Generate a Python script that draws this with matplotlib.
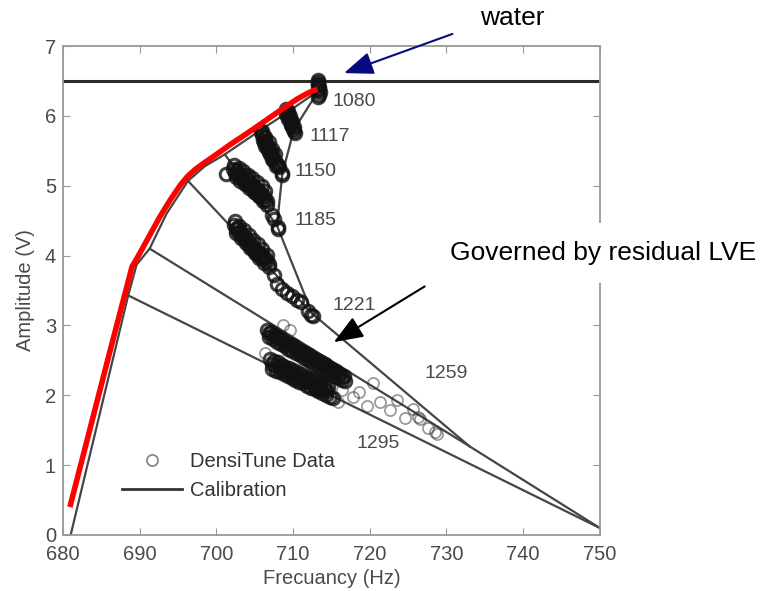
import matplotlib.pyplot as plt
from matplotlib.lines import Line2D

plt.rcParams['font.family'] = ['Liberation Sans', 'DejaVu Sans']

# ── Calibration geometry ─────────────────────────────────────────────────────
water_level = 6.5

env_x = [681.0, 688.5, 689.6, 691.3, 693.5, 696.3, 698.5, 701.1, 705.8, 708.3, 713.3]
env_y = [0.00, 3.43, 3.87, 4.10, 4.60, 5.07, 5.28, 5.45, 5.80, 5.98, 6.36]

densities = ['1080', '1117', '1150', '1185', '1221', '1259', '1295']
traj_x = [713.3, 710.1, 708.6, 707.9, 712.5, 733.0, 750.0]
traj_y = [6.36, 5.80, 5.17, 4.43, 3.17, 1.27, 0.10]
ray_x = [713.3, 708.3, 705.8, 701.1, 696.3, 691.3, 688.5]
ray_y = [6.36, 5.98, 5.80, 5.45, 5.07, 4.10, 3.43]

label_x = [715.2, 712.2, 710.2, 710.2, 715.2, 727.2, 718.3]
label_y = [6.20, 5.70, 5.20, 4.50, 3.29, 2.31, 1.31]

# red envelope drawn over the calibration
red_x = [680.9, 686.1, 689.0, 690.0, 692.6, 694.0, 695.3, 696.2, 697.2, 698.3, 699.5,
         701.8, 704.0, 706.1, 708.2, 710.5, 711.8, 712.6, 713.2]
red_y = [0.40, 2.62, 3.84, 4.03, 4.55, 4.80, 5.01, 5.13, 5.23, 5.32, 5.41,
         5.59, 5.75, 5.91, 6.07, 6.24, 6.32, 6.36, 6.38]

# ── DensiTune data (circles) ─────────────────────────────────────────────────
c1080_x = [713.2, 713.3, 713.2, 713.4, 713.3, 713.5, 713.4, 713.3, 713.2, 713.4]
c1080_y = [6.52, 6.48, 6.44, 6.41, 6.37, 6.34, 6.30, 6.27, 6.46, 6.39]

c1117_x = [709.1, 709.2, 709.4, 709.3, 709.5, 709.6, 709.8, 709.7, 709.9, 710.0, 710.1, 710.2,
           709.3, 709.6, 709.9, 710.1, 709.1, 709.4, 709.7]
c1117_y = [6.10, 6.06, 6.03, 6.00, 5.97, 5.94, 5.91, 5.88, 5.85, 5.82, 5.79, 5.76,
           6.07, 6.00, 5.92, 5.84, 6.03, 5.95, 5.87]

c1150_x = [705.8, 706.0, 706.2, 706.1, 706.3, 706.5, 706.4, 706.7, 706.9, 706.8,
           707.1, 707.2, 707.4, 707.3, 707.6, 707.8, 708.0, 708.2, 708.5, 708.6,
           706.0, 706.4, 706.8, 707.2, 707.6, 706.2, 706.6, 707.0, 707.4, 707.8]
c1150_y = [5.77, 5.73, 5.70, 5.66, 5.64, 5.61, 5.57, 5.55, 5.52, 5.49,
           5.47, 5.43, 5.41, 5.38, 5.36, 5.33, 5.30, 5.27, 5.19, 5.16,
           5.78, 5.70, 5.62, 5.53, 5.45, 5.62, 5.54, 5.45, 5.37, 5.28]

c1185_x = [701.3, 702.2, 702.4, 702.6, 702.8, 703.0, 703.2, 703.4, 703.6, 703.8, 704.0, 704.2,
           704.4, 704.6, 704.8, 705.0, 705.2, 705.4, 705.6, 705.8, 706.0, 706.2, 706.4, 706.6,
           707.2, 707.5, 708.0, 708.1,
           702.3, 702.9, 703.5, 704.1, 704.7, 705.3, 705.9, 706.4,
           702.5, 703.1, 703.7, 704.3, 704.9, 705.5, 706.1, 706.6]
c1185_y = [5.17, 5.24, 5.18, 5.22, 5.15, 5.19, 5.11, 5.15, 5.07, 5.12, 5.03, 5.07,
           4.99, 5.03, 4.95, 4.98, 4.90, 4.94, 4.86, 4.89, 4.82, 4.85, 4.80, 4.78,
           4.58, 4.52, 4.41, 4.38,
           5.30, 5.25, 5.21, 5.16, 5.11, 5.05, 4.99, 4.93,
           5.12, 5.07, 5.02, 4.97, 4.91, 4.85, 4.78, 4.72]

c1221_x = [702.3, 702.5, 702.7, 702.9, 703.1, 703.3, 703.5, 703.7, 703.9, 704.1, 704.3, 704.5,
           704.7, 704.9, 705.1, 705.3, 705.5, 705.7, 705.9, 706.1, 706.3, 706.6, 706.9,
           707.5, 707.9, 708.6, 709.2, 709.8, 710.5, 711.0, 712.0, 712.4, 712.6,
           702.4, 703.0, 703.6, 704.2, 704.8, 705.4, 706.0, 706.6,
           702.6, 703.2, 703.8, 704.4, 705.0, 705.6, 706.2, 706.8]
c1221_y = [4.44, 4.38, 4.40, 4.33, 4.35, 4.28, 4.30, 4.23, 4.25, 4.18, 4.20, 4.13,
           4.15, 4.08, 4.10, 4.03, 4.05, 3.99, 4.01, 3.95, 3.97, 3.92, 3.88,
           3.72, 3.60, 3.52, 3.47, 3.42, 3.36, 3.33, 3.20, 3.15, 3.13,
           4.50, 4.43, 4.37, 4.30, 4.23, 4.16, 4.09, 4.01,
           4.32, 4.25, 4.18, 4.11, 4.04, 3.97, 3.90, 3.84]

c1259_x = [706.6, 707.1, 707.6, 708.1, 708.6, 709.1, 709.6, 710.1, 710.6, 711.1, 711.6,
           712.1, 712.6, 713.1, 713.6, 714.1, 714.6, 715.1, 715.6, 716.1, 716.6,
           706.9, 707.4, 707.9, 708.4, 708.9, 709.4, 709.9, 710.4, 710.9, 711.4, 711.9,
           712.4, 712.9, 713.4, 713.9, 714.4, 714.9, 715.4, 715.9, 716.4, 716.8,
           706.85, 707.35, 707.85, 708.35, 708.85, 709.35, 709.85, 710.35, 710.85, 711.35,
           711.85, 712.35, 712.85, 713.35, 713.85, 714.35, 714.85, 715.35, 715.85, 716.35]
c1259_y = [2.93, 2.90, 2.87, 2.84, 2.80, 2.77, 2.74, 2.71, 2.67, 2.64, 2.61,
           2.58, 2.54, 2.51, 2.48, 2.45, 2.41, 2.38, 2.35, 2.31, 2.28,
           2.83, 2.80, 2.77, 2.73, 2.70, 2.67, 2.64, 2.60, 2.57, 2.54, 2.51,
           2.47, 2.44, 2.41, 2.38, 2.34, 2.31, 2.28, 2.25, 2.22, 2.20,
           2.89, 2.86, 2.83, 2.80, 2.76, 2.73, 2.70, 2.66, 2.63, 2.60,
           2.56, 2.53, 2.50, 2.46, 2.43, 2.40, 2.36, 2.33, 2.30, 2.26]

c1295_x = [707.0, 707.5, 708.0, 708.5, 709.0, 709.5, 710.0, 710.5, 711.0, 711.5, 712.0, 712.5,
           713.0, 713.5, 714.0, 714.5,
           707.3, 707.8, 708.3, 708.8, 709.3, 709.8, 710.3, 710.8, 711.3, 711.8, 712.3, 712.8,
           713.3, 713.8, 714.3, 714.8, 715.2,
           708.2, 709.2, 710.2, 711.2, 712.2, 713.2, 714.2, 708.7, 709.7, 710.7, 711.7, 712.7, 713.7,
           707.2, 707.7, 708.5, 709.4, 710.4, 711.4, 712.4, 713.4, 714.4]
c1295_y = [2.52, 2.49, 2.47, 2.44, 2.41, 2.39, 2.36, 2.33, 2.31, 2.28, 2.25, 2.23,
           2.20, 2.17, 2.15, 2.12,
           2.38, 2.35, 2.33, 2.30, 2.27, 2.25, 2.22, 2.19, 2.17, 2.14, 2.11, 2.09,
           2.06, 2.03, 2.01, 1.98, 1.96,
           2.42, 2.36, 2.31, 2.25, 2.20, 2.15, 2.09, 2.36, 2.31, 2.25, 2.20, 2.14, 2.09,
           2.45, 2.42, 2.38, 2.33, 2.28, 2.22, 2.17, 2.12, 2.06]

scatter_x = [706.3, 708.7, 709.6, 715.8, 716.4, 717.8, 718.6, 719.6, 720.4, 721.3,
             722.6, 723.6, 724.6, 725.6, 726.3, 726.6, 727.6, 728.5, 728.8]
scatter_y = [2.60, 3.00, 2.93, 1.90, 2.08, 1.97, 2.05, 1.85, 2.17, 1.91,
             1.79, 1.93, 1.67, 1.80, 1.69, 1.66, 1.53, 1.47, 1.45]

# Size / style constants
axis_size = 14.5
num_size = 14
note_size = 19
grey_text = '#4a4a4a'
calib_color = '#454545'

fig, ax = plt.subplots(figsize=(7.7, 5.91), dpi=100)
fig.subplots_adjust(left=0.0818, right=0.779, bottom=0.0948, top=0.922)

# calibration lines
ax.axhline(water_level, color='#2a2a2a', linewidth=2.2, zorder=2)
ax.plot(env_x, env_y, color=calib_color, linewidth=1.6, zorder=2)
ax.plot(traj_x, traj_y, color=calib_color, linewidth=1.6, zorder=2)
for x0, y0, x1, y1 in zip(ray_x, ray_y, traj_x, traj_y):
    ax.plot([x0, x1], [y0, y1], color=calib_color, linewidth=1.6, zorder=2)

# data circles: dense clusters print almost black, loose ones grey
blob_style = dict(linestyle='none', marker='o', markersize=9, markerfacecolor='none',
                  markeredgecolor='#111111', markeredgewidth=2.2, alpha=0.8, zorder=3)
loose_style = dict(linestyle='none', marker='o', markersize=8, markerfacecolor='none',
                   markeredgecolor='#222222', markeredgewidth=1.3, alpha=0.45, zorder=3)
for xs, ys in [(c1080_x, c1080_y), (c1117_x, c1117_y), (c1150_x, c1150_y),
               (c1185_x, c1185_y), (c1221_x, c1221_y), (c1259_x, c1259_y),
               (c1295_x, c1295_y)]:
    ax.plot(xs, ys, **blob_style)
ax.plot(scatter_x, scatter_y, **loose_style)

ax.plot(red_x, red_y, color='red', linewidth=4, solid_capstyle='butt',
        solid_joinstyle='round', zorder=4)

for lab, lx, ly in zip(densities, label_x, label_y):
    ax.text(lx, ly, lab, fontsize=num_size, color=grey_text, va='center', ha='left')

ax.set_xlim(680, 750)
ax.set_ylim(0, 7)
ax.set_xticks(range(680, 751, 10))
ax.set_yticks(range(0, 8))
ax.tick_params(direction='in', top=True, right=True, length=5, color='#999999',
               labelsize=axis_size, labelcolor=grey_text)
ax.tick_params(axis='x', pad=7)
ax.tick_params(axis='y', pad=5)
for sp in ax.spines.values():
    sp.set_color('#999999')
    sp.set_linewidth(1.3)
ax.set_xlabel('Frecuancy (Hz)', fontsize=axis_size, color=grey_text, labelpad=4)
ax.set_ylabel('Amplitude (V)', fontsize=axis_size, color=grey_text, labelpad=7)

handles = [Line2D([], [], linestyle='none', marker='o', markersize=8, markerfacecolor='none',
                  markeredgecolor='#888888', markeredgewidth=1.3),
           Line2D([], [], color='#333333', linewidth=2)]
ax.legend(handles, ['DensiTune Data', 'Calibration'], loc='center left',
          bbox_to_anchor=(0.094, 0.12), borderaxespad=0, frameon=False,
          fontsize=axis_size, labelcolor='#333333', handlelength=3.0,
          handletextpad=0.4, labelspacing=0.5)

# annotations
fig.text(480, 573, 'water', transform=None, fontsize=note_size, color='black',
         va='center', ha='left')
fig.text(450, 338, 'Governed by residual LVE', transform=None, fontsize=note_size,
         color='black', va='center', ha='left',
         bbox=dict(boxstyle='square,pad=0.7', facecolor='white', edgecolor='none'))
ax.annotate('', xy=(716.3, 6.6), xycoords='data', xytext=(455, 558),
            textcoords='figure pixels', annotation_clip=False,
            arrowprops=dict(arrowstyle='-|>,head_length=0.9,head_width=0.35',
                            mutation_scale=20, color='#0a0a80', linewidth=1.5))
ax.annotate('', xy=(715.0, 2.74), xycoords='data', xytext=(427, 306),
            textcoords='figure pixels', annotation_clip=False,
            arrowprops=dict(arrowstyle='-|>,head_length=0.9,head_width=0.35',
                            mutation_scale=20, color='black', linewidth=1.5))

plt.savefig('out.png', dpi=100)
plt.close()
